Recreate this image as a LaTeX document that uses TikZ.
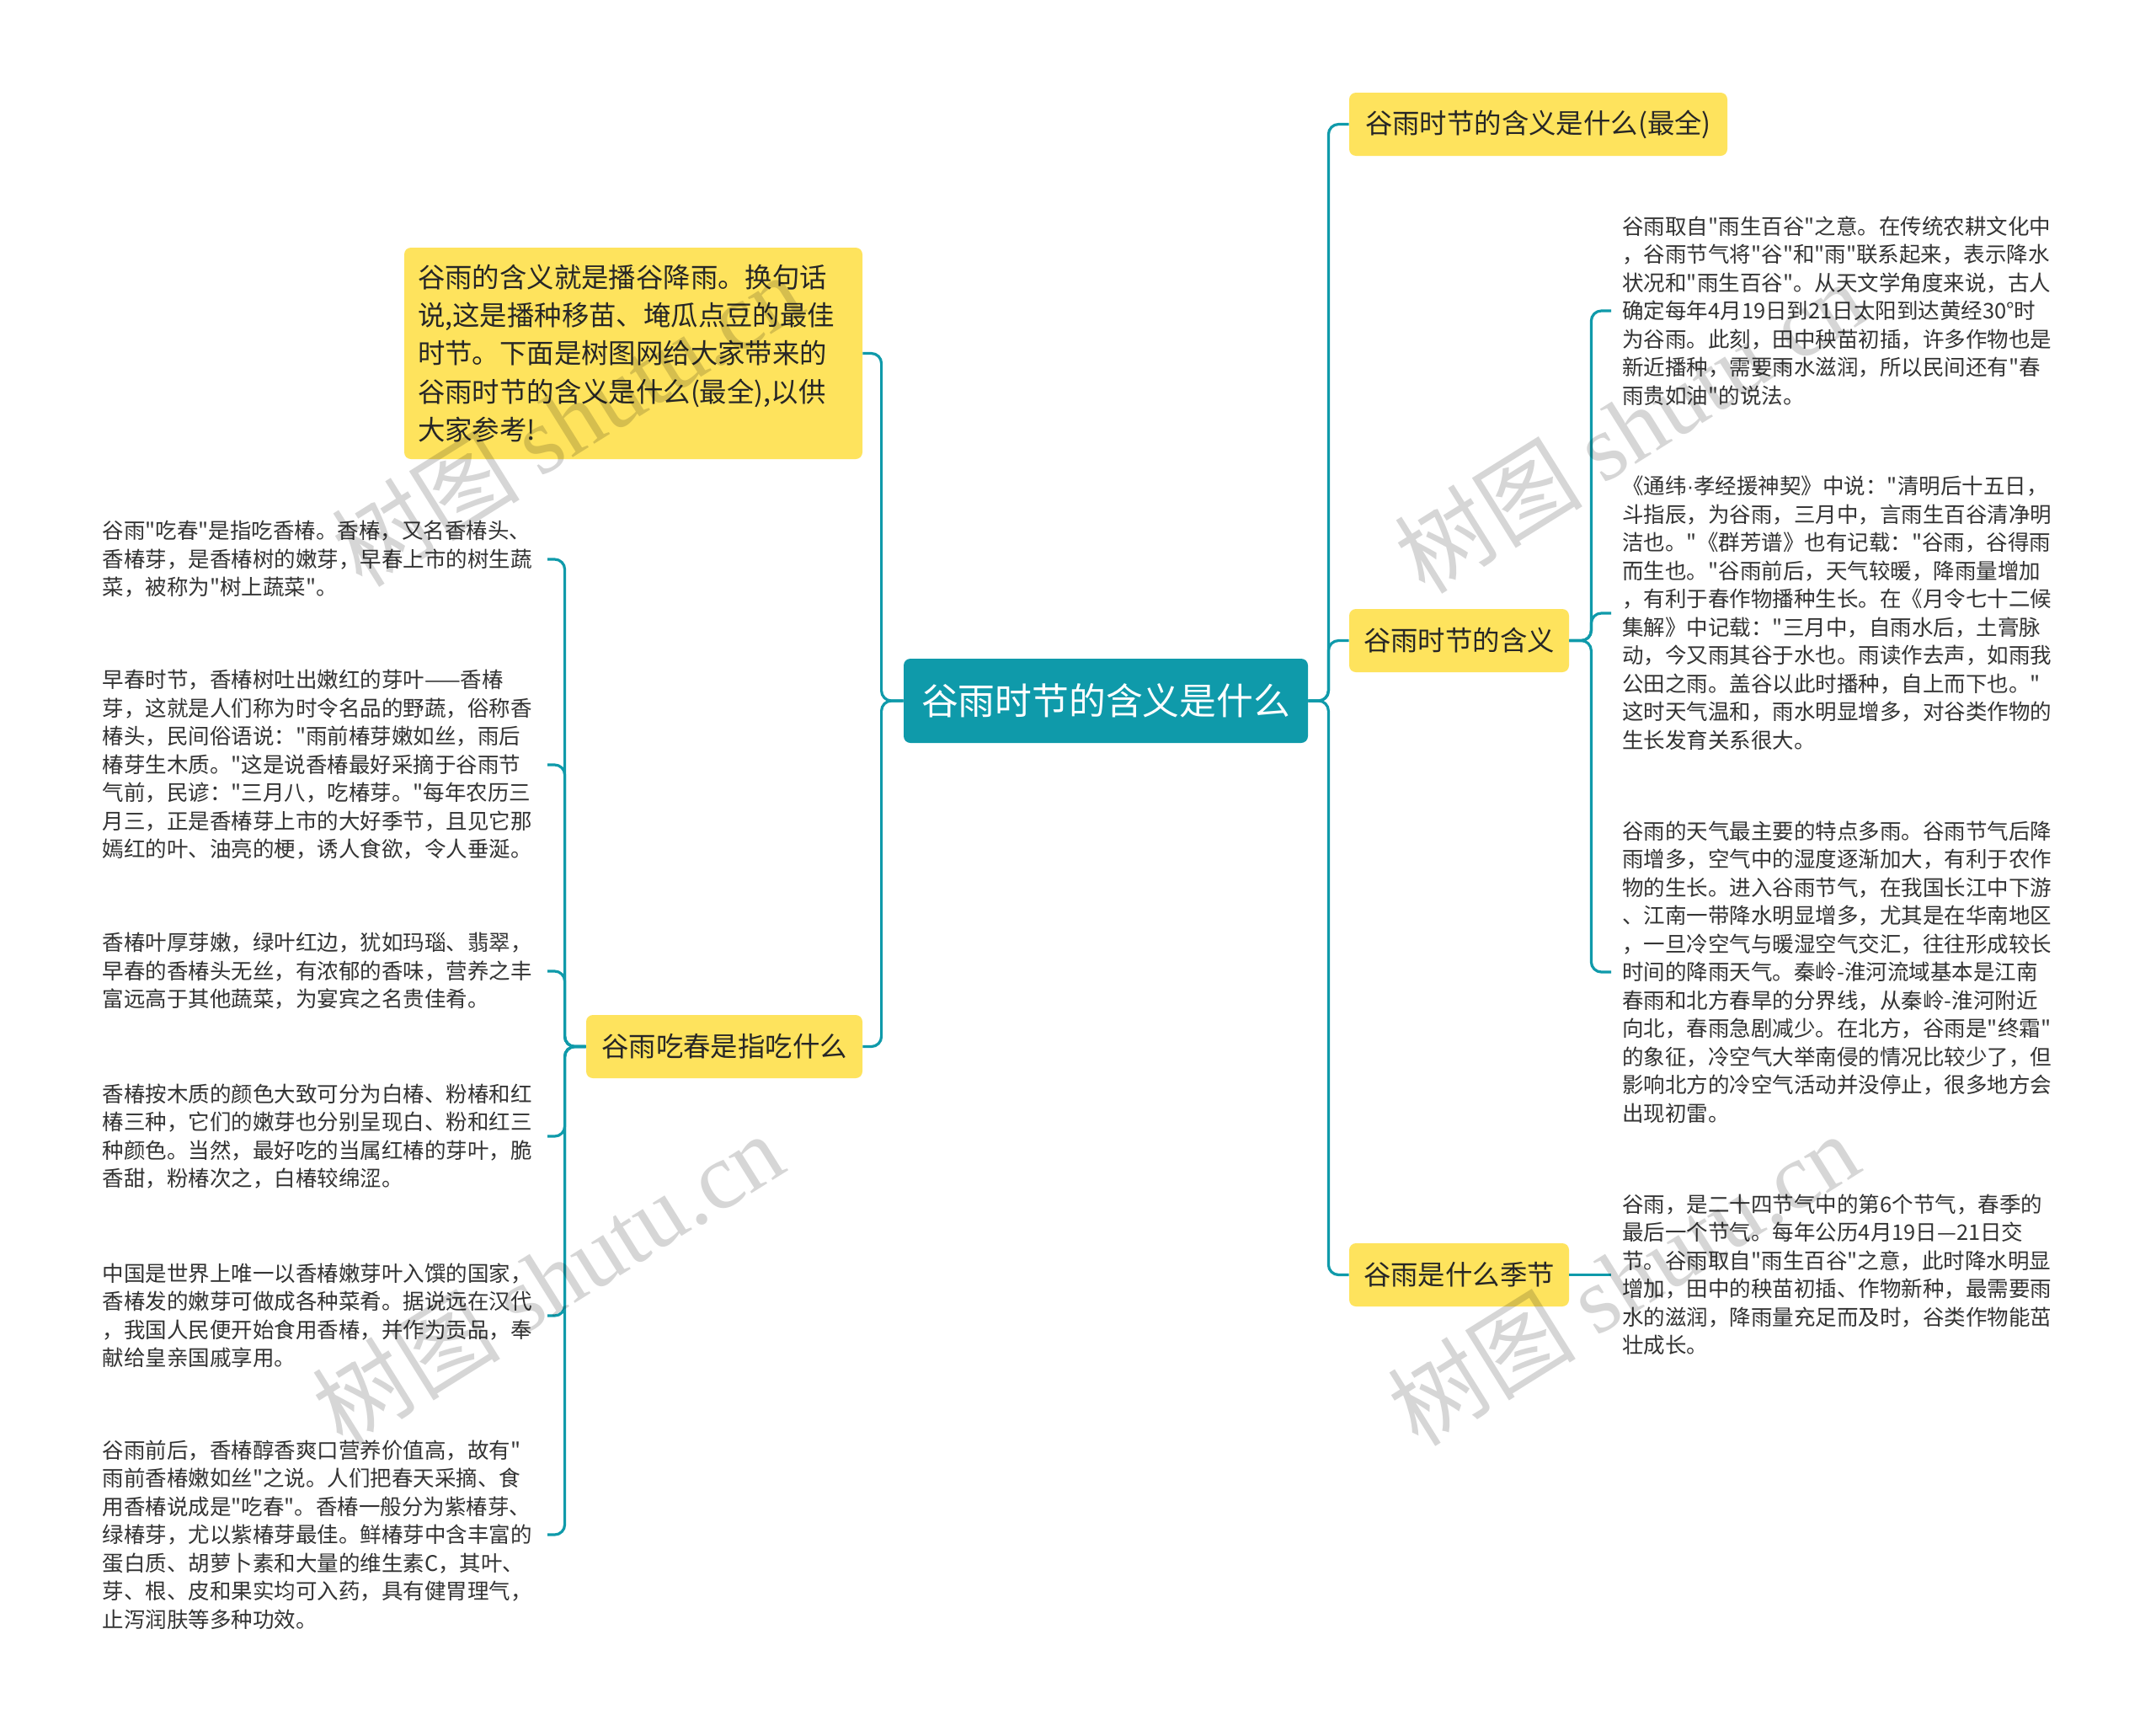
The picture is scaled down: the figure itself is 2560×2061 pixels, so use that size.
\documentclass[tikz,border=0pt]{standalone}
\usepackage{fontspec}
\setmainfont{Noto Sans CJK SC}[Ligatures=TeXOff]
\newfontfamily\mapfont{Noto Sans CJK SC}
\newfontfamily\dotfont{Liberation Sans}
\newfontfamily\markfont{Liberation Serif}
\definecolor{mapteal}{HTML}{0F9AAA}
\definecolor{mapyellow}{HTML}{FEE35D}
\begin{document}
\begin{tikzpicture}[x=0.5pt, y=-0.5pt,
                    root/.style = {shape=rectangle, fill=mapteal, text=white,
                        rounded corners=4pt, minimum width=240pt, minimum height=50pt,
                        font=\mapfont\fontsize{21.9}{26}\selectfont},
                    topic/.style = {shape=rectangle, fill=mapyellow, text=black!85,
                        rounded corners=4pt, minimum height=37.5pt,
                        font=\mapfont\fontsize{16.2}{22.7}\selectfont},
                    leaf/.style = {align=left, text width=257.5pt, inner xsep=6.5pt,
                        text=black!80, font=\mapfont\fontsize{12.75}{16.75}\selectfont},
                    link/.style = {draw=mapteal, line width=1.6pt, rounded corners=6pt},
                    watermark/.style = {text=black, opacity=0.16, rotate=32,
                        font=\mapfont\fontsize{56}{56}\selectfont}]

    \useasboundingbox (0,0) rectangle (2560,2061);
    \fill[white] (0,0) rectangle (2560,2061);

    % centre and main topics
    \node[root] (root) at (1313,832) {谷雨时节的含义是什么};
    \node[topic, minimum width=224.5pt] (r1) at (1826.5,147.5) {谷雨时节的含义是什么(最全)};
    \node[topic, minimum width=130.5pt] (r2) at (1732.5,760.5) {谷雨时节的含义};
    \node[topic, minimum width=130.5pt] (r3) at (1732.5,1513.5) {谷雨是什么季节};
    \node[topic, align=left, text width=256pt, inner xsep=8pt, minimum height=125.5pt]
        (l1) at (752,419.5) {谷雨的含义就是播谷降雨。换句话\\说,这是播种移苗、埯瓜点豆的最佳\\时节。下面是树图网给大家带来的\\谷雨时节的含义是什么(最全),以供\\大家参考!};
    \node[topic, minimum width=164pt] (l2) at (860,1242.5) {谷雨吃春是指吃什么};

    % right leaves
    \node[leaf, anchor=west] (rleaf1) at (1913,369) {谷雨取自"雨生百谷"之意。在传统农耕文化中\\，谷雨节气将"谷"和"雨"联系起来，表示降水\\状况和"雨生百谷"。从天文学角度来说，古人\\确定每年4月19日到21日太阳到达黄经30°时\\为谷雨。此刻，田中秧苗初插，许多作物也是\\新近播种，需要雨水滋润，所以民间还有"春\\雨贵如油"的说法。};
    \node[leaf, anchor=west] (rleaf2) at (1913,728) {《通纬{\dotfont ·}孝经援神契》中说："清明后十五日，\\斗指辰，为谷雨，三月中，言雨生百谷清净明\\洁也。"《群芳谱》也有记载："谷雨，谷得雨\\而生也。"谷雨前后，天气较暖，降雨量增加\\，有利于春作物播种生长。在《月令七十二候\\集解》中记载："三月中，自雨水后，土膏脉\\动，今又雨其谷于水也。雨读作去声，如雨我\\公田之雨。盖谷以此时播种，自上而下也。"\\这时天气温和，雨水明显增多，对谷类作物的\\生长发育关系很大。};
    \node[leaf, anchor=west] (rleaf3) at (1913,1154) {谷雨的天气最主要的特点多雨。谷雨节气后降\\雨增多，空气中的湿度逐渐加大，有利于农作\\物的生长。进入谷雨节气，在我国长江中下游\\、江南一带降水明显增多，尤其是在华南地区\\，一旦冷空气与暖湿空气交汇，往往形成较长\\时间的降雨天气。秦岭-淮河流域基本是江南\\春雨和北方春旱的分界线，从秦岭-淮河附近\\向北，春雨急剧减少。在北方，谷雨是"终霜"\\的象征，冷空气大举南侵的情况比较少了，但\\影响北方的冷空气活动并没停止，很多地方会\\出现初雷。};
    \node[leaf, anchor=west] (rleaf4) at (1913,1513.5) {谷雨，是二十四节气中的第6个节气，春季的\\最后一个节气。每年公历4月19日—21日交\\节。谷雨取自"雨生百谷"之意，此时降水明显\\增加，田中的秧苗初插、作物新种，最需要雨\\水的滋润，降雨量充足而及时，谷类作物能茁\\壮成长。};

    % left leaves
    \node[leaf, anchor=east] (lleaf1) at (650,664) {谷雨"吃春"是指吃香椿。香椿，又名香椿头、\\香椿芽，是香椿树的嫩芽，早春上市的树生蔬\\菜，被称为"树上蔬菜"。};
    \node[leaf, anchor=east] (lleaf2) at (650,908) {早春时节，香椿树吐出嫩红的芽叶——香椿\\芽，这就是人们称为时令名品的野蔬，俗称香\\椿头，民间俗语说："雨前椿芽嫩如丝，雨后\\椿芽生木质。"这是说香椿最好采摘于谷雨节\\气前，民谚："三月八，吃椿芽。"每年农历三\\月三，正是香椿芽上市的大好季节，且见它那\\嫣红的叶、油亮的梗，诱人食欲，令人垂涎。};
    \node[leaf, anchor=east] (lleaf3) at (650,1153) {香椿叶厚芽嫩，绿叶红边，犹如玛瑙、翡翠，\\早春的香椿头无丝，有浓郁的香味，营养之丰\\富远高于其他蔬菜，为宴宾之名贵佳肴。};
    \node[leaf, anchor=east] (lleaf4) at (650,1349) {香椿按木质的颜色大致可分为白椿、粉椿和红\\椿三种，它们的嫩芽也分别呈现白、粉和红三\\种颜色。当然，最好吃的当属红椿的芽叶，脆\\香甜，粉椿次之，白椿较绵涩。};
    \node[leaf, anchor=east] (lleaf5) at (650,1562) {中国是世界上唯一以香椿嫩芽叶入馔的国家，\\香椿发的嫩芽可做成各种菜肴。据说远在汉代\\，我国人民便开始食用香椿，并作为贡品，奉\\献给皇亲国戚享用。};
    \node[leaf, anchor=east] (lleaf6) at (650,1822) {谷雨前后，香椿醇香爽口营养价值高，故有"\\雨前香椿嫩如丝"之说。人们把春天采摘、食\\用香椿说成是"吃春"。香椿一般分为紫椿芽、\\绿椿芽，尤以紫椿芽最佳。鲜椿芽中含丰富的\\蛋白质、胡萝卜素和大量的维生素C，其叶、\\芽、根、皮和果实均可入药，具有健胃理气，\\止泻润肤等多种功效。};

    % connectors
    \foreach \n in {r1,r2,r3}
        \draw[link] (root.east) -- ++(12pt,0) |- (\n.west);
    \foreach \n in {l1,l2}
        \draw[link] (root.west) -- ++(-13pt,0) |- (\n.east);
    \foreach \n in {rleaf1,rleaf2,rleaf3}
        \draw[link] (r2.east) -- ++(13pt,0) |- (\n.west);
    \draw[link] (r3.east) -- (rleaf4.west);
    \foreach \n in {lleaf1,lleaf2,lleaf3,lleaf4,lleaf5,lleaf6}
        \draw[link] (l2.west) -- ++(-12.5pt,0) |- (\n.east);

    % watermarks
    \node[watermark] (wm1) at (673,498) {树图 {\markfont shutu.cn}};
    \node[watermark] (wm2) at (650,1518) {树图 {\markfont shutu.cn}};
    \node[watermark] (wm3) at (1935,506) {树图 {\markfont shutu.cn}};
    \node[watermark] (wm4) at (1927,1518) {树图 {\markfont shutu.cn}};

\end{tikzpicture}
\end{document}
